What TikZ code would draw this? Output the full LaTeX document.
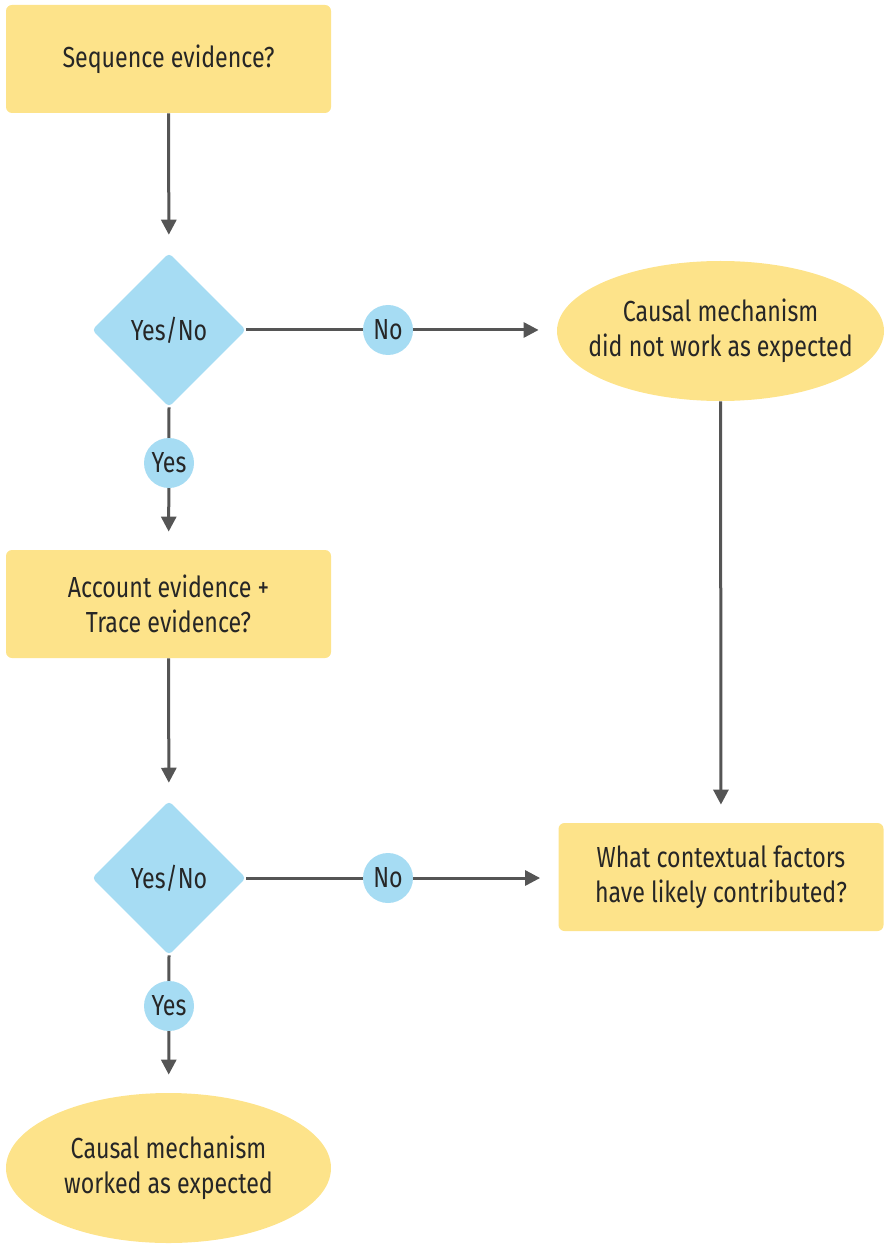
\documentclass[tikz,border=0pt]{standalone}
\usepackage{fontspec}
\setmainfont[FakeStretch=0.8]{Fira Sans}
\usepackage{tikz}
\usetikzlibrary{arrows.meta, positioning, shapes.geometric}
\definecolor{qyellow}{HTML}{FDE38A}
\definecolor{qblue}{HTML}{A6DCF3}
\definecolor{qgray}{HTML}{555555}

\tikzset{
    labelfont/.style={font=\fontsize{14.5}{17.5}\selectfont},
    question/.style={fill=qyellow, rounded corners=3pt, minimum width=162.5pt, minimum height=54pt, align=center, labelfont},
    outcome/.style={ellipse, fill=qyellow, inner xsep=-12pt, inner ysep=0pt, align=center, labelfont},
    decision/.style={diamond, fill=qblue, rounded corners=2pt, minimum width=77pt, minimum height=77pt, inner sep=0pt, labelfont},
    answer/.style={circle, fill=qblue, minimum size=25pt, inner sep=0pt, labelfont},
    flow/.style={draw=qgray, line width=1.5pt},
    flowarrow/.style={flow, -{Triangle[length=7.5pt, width=7.5pt]}, shorten >=9pt}
}

\begin{document}
\begin{tikzpicture}[x=0.5pt, y=-0.5pt, text=black!85]
    \useasboundingbox (0,0) rectangle (885,1245);

    \node[question] (seq) at (168.5,59) {Sequence evidence?};
    \node[decision] (dec1) at (169,330) {Yes/No};
    \node[outcome, minimum width=163.5pt, minimum height=70pt] (notwork) at (720.5,331) {Causal mechanism\\did not work as expected};
    \node[question] (acc) at (168.5,604) {Account evidence +\\Trace evidence?};
    \node[decision] (dec2) at (169,878) {Yes/No};
    \node[question] (ctx) at (721,877) {What contextual factors\\have likely contributed?};
    \node[outcome, minimum width=162.5pt, minimum height=75pt] (worked) at (168.5,1168) {Causal mechanism\\worked as expected};

    % connectors
    \draw[flowarrow] (seq) -- (dec1);
    \draw[flowarrow] (dec1.east) -- (dec1.east -| notwork.west);
    \draw[flowarrow] (dec1.south) -- (acc);
    \draw[flowarrow] (acc) -- (dec2);
    \draw[flowarrow] (dec2.east) -- (dec2.east -| ctx.west);
    \draw[flowarrow] (notwork) -- (ctx);
    \draw[flowarrow] (dec2.south) -- (worked);

    % answer labels on the lines
    \node[answer] (no1) at (388,330) {No};
    \node[answer] (yes1) at (169,463) {Yes};
    \node[answer] (no2) at (388,878) {No};
    \node[answer] (yes2) at (169,1006) {Yes};
\end{tikzpicture}
\end{document}
